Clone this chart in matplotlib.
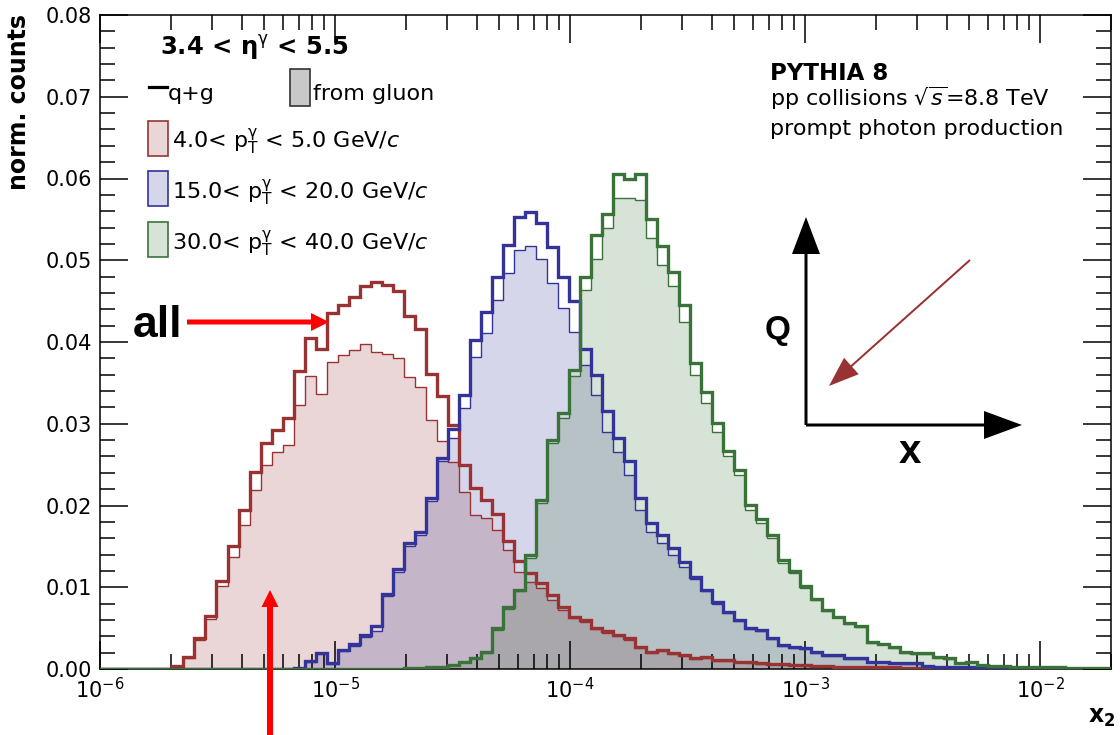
import numpy as np
import matplotlib
matplotlib.use("Agg")
import matplotlib.pyplot as plt
from matplotlib.patches import Rectangle, FancyArrow
from matplotlib.lines import Line2D
from matplotlib.transforms import IdentityTransform
from matplotlib.ticker import MultipleLocator, LogLocator, FormatStrFormatter, NullFormatter

plt.rcParams['font.family'] = ['DejaVu Sans']
plt.rcParams['mathtext.fontset'] = 'dejavusans'

# ---------------- data ----------------
# common binning in log10(x2)
LOG_EDGE_MIN = -6.020
LOG_BIN_WIDTH = 0.04687
N_BINS = 94

# 4.0 < pT < 5.0 GeV/c  (first listed bin index = 7)
red_start = 7
red_all = [0.0004, 0.0015, 0.0038, 0.0065, 0.0108, 0.0150, 0.0195, 0.0241, 0.0277, 0.0292,
           0.0307, 0.0364, 0.0405, 0.0391, 0.0436, 0.0445, 0.0455, 0.0468, 0.0473, 0.0470,
           0.0462, 0.0432, 0.0416, 0.0361,
           0.0334, 0.0298, 0.0250, 0.0222, 0.0207, 0.0190, 0.0156, 0.0132, 0.0117, 0.0105,
           0.0091, 0.0076, 0.0063, 0.0060, 0.0050,
           0.0046, 0.0042, 0.0038, 0.0027, 0.0021, 0.0023, 0.0019, 0.0017, 0.0013, 0.0015,
           0.0011, 0.0011, 0.0008, 0.0008, 0.0007,
           0.0006, 0.0006, 0.0005, 0.0005, 0.0004, 0.0004, 0.0003, 0.0003, 0.0003, 0.0002,
           0.0002, 0.0002, 0.0001, 0.0001, 0.0001, 0.0001]
red_glu = [0.0003, 0.0013, 0.0035, 0.0061, 0.0101, 0.0137, 0.0176, 0.0219, 0.0250, 0.0266,
           0.0274, 0.0323, 0.0358, 0.0337, 0.0376, 0.0384, 0.0390, 0.0398, 0.0388, 0.0385,
           0.0380, 0.0357, 0.0345, 0.0304,
           0.0279, 0.0253, 0.0217, 0.0188, 0.0185, 0.0170, 0.0146, 0.0119, 0.0107, 0.0099,
           0.0084, 0.0072, 0.0062, 0.0058, 0.0049,
           0.0044, 0.0040, 0.0036, 0.0026, 0.0020, 0.0022, 0.0018, 0.0016, 0.0012, 0.0014,
           0.0010, 0.0010, 0.0008, 0.0007, 0.0006,
           0.0006, 0.0005, 0.0005, 0.0004, 0.0004, 0.0003, 0.0003, 0.0003, 0.0002, 0.0002,
           0.0002, 0.0001, 0.0001, 0.0001, 0.0001, 0.0001]

# 15.0 < pT < 20.0 GeV/c (first listed bin index = 18)
blue_start = 18
blue_all = [0.0001, 0.0010, 0.0019, 0.0007, 0.0023, 0.0030, 0.0041, 0.0053, 0.0092, 0.0122,
            0.0154, 0.0168, 0.0209,
            0.0258, 0.0294, 0.0335, 0.0402, 0.0437, 0.0480, 0.0519, 0.0553, 0.0559, 0.0545,
            0.0516, 0.0480, 0.0450, 0.0391, 0.0360, 0.0315, 0.0282, 0.0254, 0.0209, 0.0178,
            0.0164, 0.0148, 0.0131, 0.0113, 0.0097, 0.0082, 0.0070, 0.0060, 0.0050, 0.0048,
            0.0038, 0.0029, 0.0027,
            0.0026, 0.0021, 0.0017, 0.0017, 0.0013, 0.0013, 0.0009, 0.0009, 0.0007, 0.0007,
            0.0007, 0.0004, 0.0003, 0.0003, 0.0002, 0.0002, 0.0002, 0.0002, 0.0001, 0.0001,
            0.0001, 0.0001, 0.0001]
blue_glu = [0.0001, 0.0009, 0.0018, 0.0006, 0.0022, 0.0028, 0.0039, 0.0046, 0.0089, 0.0119,
            0.0150, 0.0164, 0.0206,
            0.0254, 0.0282, 0.0319, 0.0382, 0.0411, 0.0451, 0.0484, 0.0512, 0.0517, 0.0502,
            0.0472, 0.0441, 0.0412, 0.0372, 0.0335, 0.0290, 0.0266, 0.0237, 0.0194, 0.0168,
            0.0154, 0.0139, 0.0125, 0.0110, 0.0095, 0.0080, 0.0069, 0.0059, 0.0049, 0.0047,
            0.0037, 0.0028, 0.0026,
            0.0025, 0.0020, 0.0016, 0.0016, 0.0012, 0.0012, 0.0009, 0.0008, 0.0007, 0.0006,
            0.0006, 0.0004, 0.0003, 0.0003, 0.0002, 0.0002, 0.0002, 0.0001, 0.0001, 0.0001,
            0.0001, 0.0001, 0.0001]

# 30.0 < pT < 40.0 GeV/c (first listed bin index = 28)
green_start = 28
green_all = [0.0001, 0.0001, 0.0002, 0.0003,
             0.0005, 0.0008, 0.0014, 0.0021, 0.0050, 0.0076, 0.0097, 0.0139, 0.0207, 0.0280,
             0.0313, 0.0366, 0.0479, 0.0531,
             0.0557, 0.0605, 0.0600, 0.0605, 0.0551, 0.0517, 0.0486, 0.0445, 0.0374, 0.0339,
             0.0301, 0.0267, 0.0243, 0.0201, 0.0183, 0.0164, 0.0133, 0.0120,
             0.0101, 0.0086, 0.0072, 0.0064, 0.0056, 0.0052, 0.0033, 0.0031, 0.0027, 0.0021,
             0.0019, 0.0019, 0.0015, 0.0013, 0.0007, 0.0009, 0.0005,
             0.0004, 0.0004, 0.0003, 0.0003, 0.0002, 0.0002, 0.0002, 0.0001, 0.0001, 0.0001,
             0.0001]
green_glu = [0.0001, 0.0001, 0.0002, 0.0003,
             0.0005, 0.0008, 0.0013, 0.0020, 0.0048, 0.0074, 0.0095, 0.0136, 0.0203, 0.0276,
             0.0307, 0.0358, 0.0464, 0.0502,
             0.0539, 0.0576, 0.0576, 0.0574, 0.0527, 0.0494, 0.0468, 0.0425, 0.0360, 0.0325,
             0.0290, 0.0260, 0.0237, 0.0194, 0.0179, 0.0160, 0.0130, 0.0117,
             0.0099, 0.0084, 0.0071, 0.0063, 0.0055, 0.0051, 0.0032, 0.0030, 0.0026, 0.0020,
             0.0018, 0.0018, 0.0014, 0.0012, 0.0007, 0.0008, 0.0005,
             0.0004, 0.0004, 0.0003, 0.0003, 0.0002, 0.0002, 0.0002, 0.0001, 0.0001, 0.0001,
             0.0001]

series_labels = [r"4.0< $\mathrm{p}_{\mathrm{T}}^{\mathrm{\gamma}}$ < 5.0 GeV/$c$",
                 r"15.0< $\mathrm{p}_{\mathrm{T}}^{\mathrm{\gamma}}$ < 20.0 GeV/$c$",
                 r"30.0< $\mathrm{p}_{\mathrm{T}}^{\mathrm{\gamma}}$ < 40.0 GeV/$c$"]
y_ticks = [0.00, 0.01, 0.02, 0.03, 0.04, 0.05, 0.06, 0.07, 0.08]

# ---------------- style ----------------
C_RED, C_BLUE, C_GREEN = '#993333', '#333399', '#3a733a'
FILL_ALPHA = 0.2
W, H = 1120, 735

edges = 10 ** (LOG_EDGE_MIN + LOG_BIN_WIDTH * np.arange(N_BINS + 1))


def full(start, vals):
    out = np.zeros(N_BINS)
    out[start:start + len(vals)] = vals
    return out


fig = plt.figure(figsize=(W / 100, H / 100), dpi=100)
ax = fig.add_axes([100 / W, 1 - 669 / H, 1011 / W, 654 / H])

series = [(red_start, red_all, red_glu, C_RED),
          (blue_start, blue_all, blue_glu, C_BLUE),
          (green_start, green_all, green_glu, C_GREEN)]
for start, v_all, v_glu, c in series:
    g = full(start, v_glu)
    ax.stairs(g, edges, baseline=0, fill=True, color=c, alpha=FILL_ALPHA, lw=0, zorder=1)
for start, v_all, v_glu, c in series:
    g = full(start, v_glu)
    a = full(start, v_all)
    ax.stairs(g, edges, baseline=0, color=c, lw=1.0, zorder=2)
    ax.stairs(a, edges, baseline=0, color=c, lw=2.4, zorder=3)

ax.set_xscale('log')
ax.set_xlim(1e-6, 0.02)
ax.set_ylim(0, 0.08)
ax.set_yticks(y_ticks)
ax.yaxis.set_major_formatter(FormatStrFormatter('%.2f'))
ax.yaxis.set_minor_locator(MultipleLocator(0.002))
ax.xaxis.set_minor_locator(LogLocator(base=10, subs=np.arange(2, 10)))
ax.xaxis.set_minor_formatter(NullFormatter())
ax.tick_params(which='both', direction='in', top=True, right=True, width=1.1, colors='black')
ax.tick_params(which='major', length=20, labelsize=15, pad=6)
ax.tick_params(which='minor', length=10.5)
for s in ax.spines.values():
    s.set_linewidth(1.1)

ID = IdentityTransform()


def P(x, y):
    return (x, H - y)


def ftext(x, y, s, **kw):
    fig.text(*P(x, y), s, transform=ID, **kw)


# axis labels
ftext(19, 14, 'norm. counts', rotation=90, ha='center', va='top', fontsize=17, fontweight='bold')
ftext(1115, 717, r'$\mathbf{x_{2}}$', ha='right', va='center', fontsize=17)

# legend / header
ftext(160, 55, r'3.4 < η$^{\mathrm{\gamma}}$ < 5.5', fontsize=17.5, fontweight='bold', va='baseline')
fig.add_artist(Line2D([149, 167], [H - 87, H - 87], transform=ID, color='black', lw=2.3))
ftext(168, 100, 'q+g', fontsize=16, va='baseline')
fig.add_artist(Rectangle(P(290, 106), 20, 37, transform=ID, facecolor='#c8c8c8',
                         edgecolor='#333333', lw=1.2))
ftext(313, 100, 'from gluon', fontsize=16, va='baseline')
box_tops = [121, 171, 222]
text_base = [148, 199, 250]
for (start, v_all, v_glu, c), lab, yt, yb in zip(series, series_labels, box_tops, text_base):
    fig.add_artist(Rectangle(P(148, yt + 35), 20, 35, transform=ID, facecolor=c,
                             alpha=FILL_ALPHA, edgecolor='none'))
    fig.add_artist(Rectangle(P(148, yt + 35), 20, 35, transform=ID, facecolor='none',
                             edgecolor=c, lw=1.2))
    ftext(172, yb, lab, fontsize=16, va='baseline')

ftext(770, 80, 'PYTHIA 8', fontsize=16.5, fontweight='bold', va='baseline')
ftext(770, 106, r'pp collisions $\sqrt{s}$=8.8 TeV', fontsize=16, va='baseline')
ftext(770, 135, 'prompt photon production', fontsize=16, va='baseline')

# "all" annotation and red arrows
ftext(133, 337, 'all', fontsize=32, fontweight='bold', family='Liberation Sans', va='baseline')
fig.add_artist(FancyArrow(*P(187, 322), 142, 0, width=5, head_width=18, head_length=18,
                          length_includes_head=True, color='#ff0000', transform=ID, lw=0))
fig.add_artist(FancyArrow(*P(270, 740), 0, 150, width=6, head_width=17, head_length=17,
                          length_includes_head=True, color='#ff0000', transform=ID, lw=0))

# Q-x sketch
fig.add_artist(FancyArrow(*P(806, 425), 0, 208, width=3, head_width=28, head_length=37,
                          length_includes_head=True, color='black', transform=ID, lw=0))
fig.add_artist(FancyArrow(*P(806, 425), 216, 0, width=3, head_width=28, head_length=38,
                          length_includes_head=True, color='black', transform=ID, lw=0))
fig.add_artist(FancyArrow(*P(970, 260), -141, -126, width=2, head_width=22, head_length=30,
                          length_includes_head=True, color='#993333', transform=ID, lw=0))
ftext(778, 330, 'Q', fontsize=24, fontweight='bold', family='Liberation Sans',
      ha='center', va='center')
ftext(910, 452, 'x', fontsize=29, fontweight='bold', family='Liberation Sans',
      ha='center', va='center')

fig.savefig('out.png', dpi=100)
